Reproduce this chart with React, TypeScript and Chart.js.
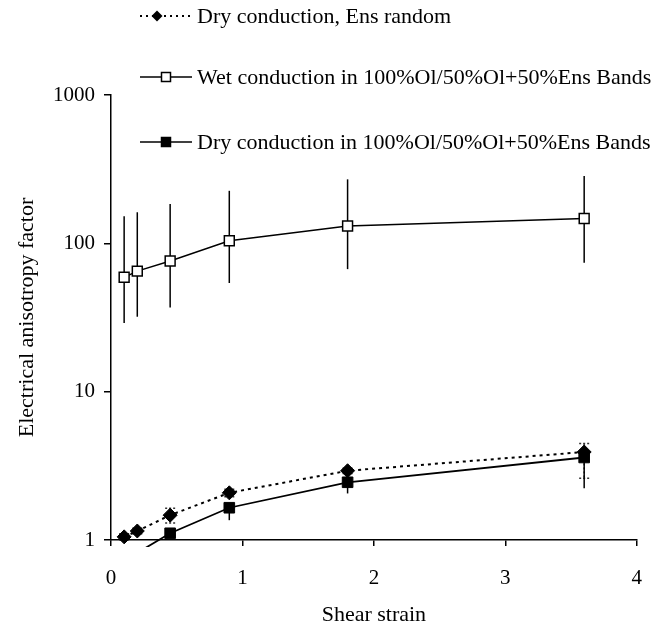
import React, { useEffect, useRef } from "react";
import { Chart, registerables } from "chart.js";

Chart.register(...registerables);

// ---- data ----
const strain = [0.1, 0.2, 0.45, 0.9, 1.8, 3.6];

const dryRandom = [1.05, 1.15, 1.47, 2.08, 2.93, 3.92];
const dryRandomErrPlus = [0.05, 0.05, 0.17, 0.12, 0.12, 0.56];
const dryRandomErrMinus = [0.05, 0.05, 0.17, 0.12, 0.12, 1.31];

const wet = [59, 65, 76, 104, 131, 147];
const wetErrPlus = [93, 97, 108, 122, 139, 137];
const wetErrMinus = [30, 33, 39, 50, 64, 73];

const dryBand: (number | null)[] = [null, 0.82, 1.11, 1.65, 2.45, 3.6];
const dryBandErrPlus: (number | null)[] = [null, 0, 0, 0, 0, 0];
const dryBandErrMinus: (number | null)[] = [null, 0, 0, 0.29, 0.39, 1.37];

const xTicks = [0, 1, 2, 3, 4];
const yTicks = [1, 10, 100, 1000];

const legendLabels = [
  "Dry conduction, Ens random",
  "Wet conduction in 100%Ol/50%Ol+50%Ens Bands",
  "Dry conduction in 100%Ol/50%Ol+50%Ens Bands",
];
const xTitle = "Shear strain";
const yTitle = "Electrical anisotropy factor";

const FONT_FAMILY = '"Liberation Serif", "Times New Roman", serif';
const tickFont = { family: FONT_FAMILY, size: 21 };
const titleFont = { family: FONT_FAMILY, size: 22 };

const toPoints = (vals: (number | null)[]) =>
  strain.map((x, i) => ({ x, y: vals[i] }));

const errorBarSets = [
  { dataset: 0, plus: dryRandomErrPlus, minus: dryRandomErrMinus, dash: [2, 2], cap: 5, color: "#333", width: 1.5 },
  { dataset: 1, plus: wetErrPlus, minus: wetErrMinus, dash: [], cap: 0, color: "#000", width: 1.5 },
  { dataset: 2, plus: dryBandErrPlus, minus: dryBandErrMinus, dash: [], cap: 0, color: "#000", width: 1.5 },
];

const errorBarPlugin = {
  id: "errorBars",
  beforeDatasetsDraw(chart: any) {
    const { ctx, scales } = chart;
    const xs = scales.x;
    const ys = scales.y;
    ctx.save();
    errorBarSets.forEach((set) => {
      const data = chart.data.datasets[set.dataset].data as any[];
      ctx.strokeStyle = set.color;
      ctx.lineWidth = set.width;
      ctx.setLineDash(set.dash);
      data.forEach((p: any, i: number) => {
        if (p.y == null || set.plus[i] == null) return;
        const px = xs.getPixelForValue(p.x);
        const top = ys.getPixelForValue(p.y + (set.plus[i] as number));
        const bot = ys.getPixelForValue(p.y - (set.minus[i] as number));
        ctx.beginPath();
        ctx.moveTo(px, top);
        ctx.lineTo(px, bot);
        ctx.stroke();
        if (set.cap > 0) {
          ctx.beginPath();
          if ((set.plus[i] as number) > 0) {
            ctx.moveTo(px - set.cap, top);
            ctx.lineTo(px + set.cap, top);
          }
          if ((set.minus[i] as number) > 0) {
            ctx.moveTo(px - set.cap, bot);
            ctx.lineTo(px + set.cap, bot);
          }
          ctx.stroke();
        }
      });
    });
    ctx.restore();
  },
};

const legendPlugin = {
  id: "customLegend",
  afterDraw(chart: any) {
    const ctx = chart.ctx as CanvasRenderingContext2D;
    const rows = [16, 77, 142];
    const x0 = 140;
    const x1 = 192;
    ctx.save();
    rows.forEach((y, i) => {
      ctx.strokeStyle = "#000";
      ctx.fillStyle = "#000";
      ctx.lineWidth = i === 0 ? 2 : 1.5;
      ctx.setLineDash(i === 0 ? [2, 4] : []);
      ctx.beginPath();
      ctx.moveTo(x0, y);
      ctx.lineTo(x1, y);
      ctx.stroke();
      ctx.setLineDash([]);
      if (i === 0) {
        const cx = 157;
        const r = 5.5;
        ctx.beginPath();
        ctx.moveTo(cx, y - r);
        ctx.lineTo(cx + r, y);
        ctx.lineTo(cx, y + r);
        ctx.lineTo(cx - r, y);
        ctx.closePath();
        ctx.fill();
      } else {
        const cx = 166;
        const s = 9;
        ctx.beginPath();
        ctx.rect(cx - s / 2, y - s / 2, s, s);
        ctx.fillStyle = i === 1 ? "#fff" : "#000";
        ctx.fill();
        ctx.lineWidth = 1.5;
        ctx.stroke();
      }
      ctx.fillStyle = "#000";
      ctx.font = `22px ${FONT_FAMILY}`;
      ctx.textBaseline = "middle";
      ctx.textAlign = "left";
      ctx.fillText(legendLabels[i], 197, y + 1);
    });
    ctx.restore();
  },
};

export default function App() {
  const canvasRef = useRef<HTMLCanvasElement | null>(null);

  useEffect(() => {
    if (!canvasRef.current) return;
    const chart = new Chart(canvasRef.current, {
      type: "line",
      data: {
        datasets: [
          {
            label: legendLabels[0],
            data: toPoints(dryRandom) as any,
            borderColor: "#000",
            borderWidth: 2,
            borderDash: [3, 4],
            pointStyle: "rectRot",
            pointRadius: 7,
            pointBackgroundColor: "#000",
            pointBorderColor: "#000",
            pointBorderWidth: 1,
            tension: 0,
            clip: false as any,
          },
          {
            label: legendLabels[1],
            data: toPoints(wet) as any,
            borderColor: "#000",
            borderWidth: 1.5,
            pointStyle: "rect",
            pointRadius: 7,
            pointBackgroundColor: "#fff",
            pointBorderColor: "#000",
            pointBorderWidth: 1.5,
            tension: 0,
          },
          {
            label: legendLabels[2],
            data: toPoints(dryBand) as any,
            borderColor: "#000",
            borderWidth: 1.8,
            pointStyle: "rect",
            pointRadius: 7.5,
            pointBackgroundColor: "#000",
            pointBorderColor: "#000",
            pointBorderWidth: 1,
            tension: 0,
            spanGaps: false,
            clip: { left: 20, top: 20, right: 20, bottom: 7 } as any,
          },
        ],
      },
      options: {
        responsive: false,
        animation: false,
        layout: { padding: { top: 95, right: 25, left: 0, bottom: 0 } },
        plugins: {
          legend: { display: false },
          tooltip: { enabled: false },
        },
        scales: {
          x: {
            type: "linear",
            min: 0,
            max: 4,
            afterBuildTicks: (s: any) => {
              s.ticks = xTicks.map((v) => ({ value: v }));
            },
            afterFit: (s: any) => {
              s.height = 88;
            },
            ticks: {
              font: tickFont,
              color: "#000",
              padding: 20,
              maxRotation: 0,
              callback: (v: any) => String(v),
            },
            grid: {
              drawOnChartArea: false,
              drawTicks: true,
              tickLength: 6,
              color: "#000",
              lineWidth: 1.5,
            },
            border: { display: true, color: "#000", width: 1.5 },
            title: {
              display: true,
              text: xTitle,
              font: titleFont,
              color: "#000",
              padding: { top: 8, bottom: 0 },
            },
          },
          y: {
            type: "logarithmic",
            min: 1,
            max: 1000,
            afterBuildTicks: (s: any) => {
              s.ticks = yTicks.map((v) => ({ value: v }));
            },
            afterFit: (s: any) => {
              s.width = 111;
            },
            ticks: {
              font: tickFont,
              color: "#000",
              padding: 9,
              callback: (v: any) => String(v),
            },
            grid: {
              drawOnChartArea: false,
              drawTicks: true,
              tickLength: 7,
              color: "#000",
              lineWidth: 1.5,
            },
            border: { display: true, color: "#000", width: 1.5 },
            title: {
              display: true,
              text: yTitle,
              font: titleFont,
              color: "#000",
              padding: { top: 14, bottom: 0 },
            },
          },
        },
      },
      plugins: [errorBarPlugin, legendPlugin],
    });
    return () => chart.destroy();
  }, []);

  return (
    <div style={{ position: "absolute", left: 0, top: 0, width: 662, height: 628, background: "#fff" }}>
      <canvas ref={canvasRef} width={662} height={628} />
    </div>
  );
}
